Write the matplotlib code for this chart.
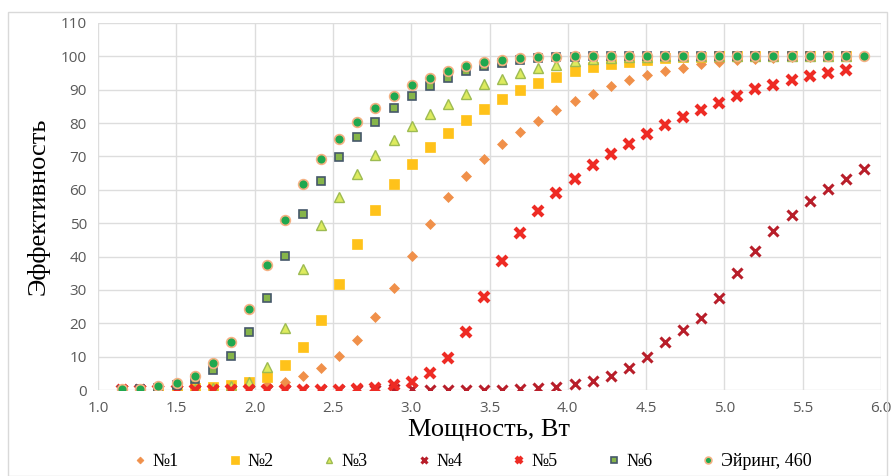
import matplotlib
matplotlib.use("Agg")
import matplotlib.pyplot as plt
from matplotlib.patches import Rectangle

# ---- data ----
x_full = [1.155, 1.271, 1.386, 1.502, 1.617, 1.733, 1.848, 1.964, 2.079, 2.195,
          2.310, 2.426, 2.541, 2.657, 2.772, 2.888, 3.003, 3.119, 3.234, 3.350,
          3.465, 3.581, 3.696, 3.812, 3.927, 4.043, 4.158, 4.274, 4.389, 4.505,
          4.620, 4.736, 4.851, 4.967, 5.082, 5.198, 5.313, 5.429, 5.544, 5.660,
          5.775, 5.891]

s1 = [0.0, 0.0, 0.0, 0.1, 0.1, 0.2, 0.4, 0.8, 1.4, 2.5,
      4.3, 6.5, 10.1, 14.9, 21.9, 30.5, 40.1, 49.7, 57.7, 64.1,
      69.2, 73.7, 77.2, 80.7, 83.8, 86.6, 88.8, 91.1, 93.0, 94.5,
      95.6, 96.6, 97.6, 98.3, 98.9, 99.3, 99.6, 99.8, 99.9, 100, 100]
s2 = [0.0, 0.0, 0.1, 0.2, 0.5, 0.9, 1.5, 2.4, 4.0, 7.4,
      12.8, 20.9, 31.8, 43.7, 54.1, 61.6, 67.7, 72.8, 77.0, 80.8,
      84.2, 87.2, 89.9, 92.1, 93.9, 95.6, 96.8, 97.6, 98.4, 99.0,
      99.4, 99.7, 99.9, 100, 100, 100, 100, 100, 100, 100, 100]
s3 = [0.0, 0.0, 0.1, 0.2, 0.4, 0.6, 1.1, 2.3, 6.8, 18.7,
      36.3, 49.4, 57.9, 64.7, 70.4, 74.9, 79.1, 82.6, 85.7, 88.8,
      91.6, 93.2, 95.0, 96.4, 97.5, 98.5, 99.1, 99.5, 99.8, 99.9,
      100, 100, 100, 100, 100, 100, 100, 100, 100, 100, 100]
s4 = [0, 0, 0, 0, 0, 0, 0, 0, 0, 0,
      0, 0, 0, 0, 0, 0.2, 0.2, 0, 0, 0,
      0, 0, 0.2, 0.5, 1.0, 1.8, 2.6, 4.3, 6.7, 10.0,
      14.5, 18.0, 21.6, 27.5, 35.1, 41.7, 47.8, 52.6, 56.5, 60.1,
      63.1, 66.2]
s5 = [0, 0, 0, 0, 0, 0, 0, 0, 0, 0,
      0, 0, 0, 0.3, 0.6, 1.4, 2.5, 5.0, 9.7, 17.4,
      28.0, 38.8, 47.2, 53.7, 59.1, 63.3, 67.3, 70.8, 73.7, 76.7,
      79.3, 81.8, 83.9, 86.0, 88.1, 90.1, 91.5, 93.0, 94.0, 95.1, 96.0]
s6 = [0.1, 0.2, 0.6, 1.4, 3.3, 6.0, 10.2, 17.4, 27.5, 40.1,
      52.7, 62.6, 69.7, 75.7, 80.2, 84.6, 88.1, 91.1, 93.6, 95.5,
      97.0, 98.1, 98.8, 99.4, 99.7, 99.9, 100, 100, 100, 100,
      100, 100, 100, 100, 100, 100, 100, 100, 100, 100, 100]
eyring = [0.2, 0.3, 1.1, 2.0, 4.1, 8.0, 14.4, 24.2, 37.4, 51.1,
          61.6, 69.2, 75.1, 80.2, 84.6, 88.1, 91.4, 93.6, 95.5, 97.1,
          98.2, 99.0, 99.4, 99.7, 99.9, 100, 100, 100, 100, 100,
          100, 100, 100, 100, 100, 100, 100, 100, 100, 100, 100, 100]

labels = ["№1", "№2", "№3", "№4", "№5", "№6", "Эйринг, 460"]
x_ticks = [1.0, 1.5, 2.0, 2.5, 3.0, 3.5, 4.0, 4.5, 5.0, 5.5, 6.0]
y_ticks = [0, 10, 20, 30, 40, 50, 60, 70, 80, 90, 100, 110]

# ---- figure ----
W, H = 891, 476
fig = plt.figure(figsize=(W / 100, H / 100), dpi=100)
fig.patches.append(Rectangle((8 / W, 0), 879 / W, (H - 12) / H, transform=fig.transFigure,
                             fill=False, edgecolor="#D9D9D9", linewidth=1.0))
ax = fig.add_axes([98 / W, 1 - 390 / H, 783 / W, 367 / H])

series = [
    (s1, dict(marker="D", ms=5.0, mfc="#F0904A", mec="#F0904A", mew=0.5)),
    (s2, dict(marker="s", ms=7.5, mfc="#FFC21A", mec="#FFC21A", mew=0.5)),
    (s3, dict(marker="^", ms=7.0, mfc="#DDEB5E", mec="#9DBB52", mew=1.0)),
    (s4, dict(marker="x", ms=6.5, mfc="#B81E2A", mec="#B81E2A", mew=2.2)),
    (s5, dict(marker="x", ms=7.0, mfc="#EE2B24", mec="#EE2B24", mew=3.0)),
    (s6, dict(marker="s", ms=5.5, mfc="#86B54A", mec="#46586A", mew=1.2)),
    (eyring, dict(marker="o", ms=7.0, mfc="#1FA84F", mec="#F4B183", mew=1.2)),
]
for (vals, st), lab in zip(series, labels):
    ax.plot(x_full[:len(vals)], vals, linestyle="none", label=lab, **st)

ax.set_xlim(1.0, 6.0)
ax.set_ylim(0, 110)
ax.set_xticks(x_ticks)
ax.set_yticks(y_ticks)
ax.set_xticklabels([f"{v:.1f}" for v in x_ticks])
ax.grid(True, color="#DDDDDD", linewidth=1.0)
ax.set_axisbelow(True)
for sp in ax.spines.values():
    sp.set_visible(False)
ax.tick_params(length=0, labelsize=11, labelcolor="#595959", pad=8)
for t in ax.get_xticklabels() + ax.get_yticklabels():
    t.set_family("Open Sans")

ax.set_xlabel("Мощность, Вт", family="Liberation Serif", fontsize=19, labelpad=2)
ax.set_ylabel("Эффективность", family="Liberation Serif", fontsize=19, labelpad=8)

handles, labs = ax.get_legend_handles_labels()
fig.legend(handles, labs, loc="center", bbox_to_anchor=(472 / W, 1 - 462 / H), ncol=7,
           frameon=False, markerscale=0.7, handlelength=0.8, handletextpad=0.3,
           columnspacing=2.7, prop={"family": "Liberation Serif", "size": 13})

fig.savefig("out.png", dpi=100)
